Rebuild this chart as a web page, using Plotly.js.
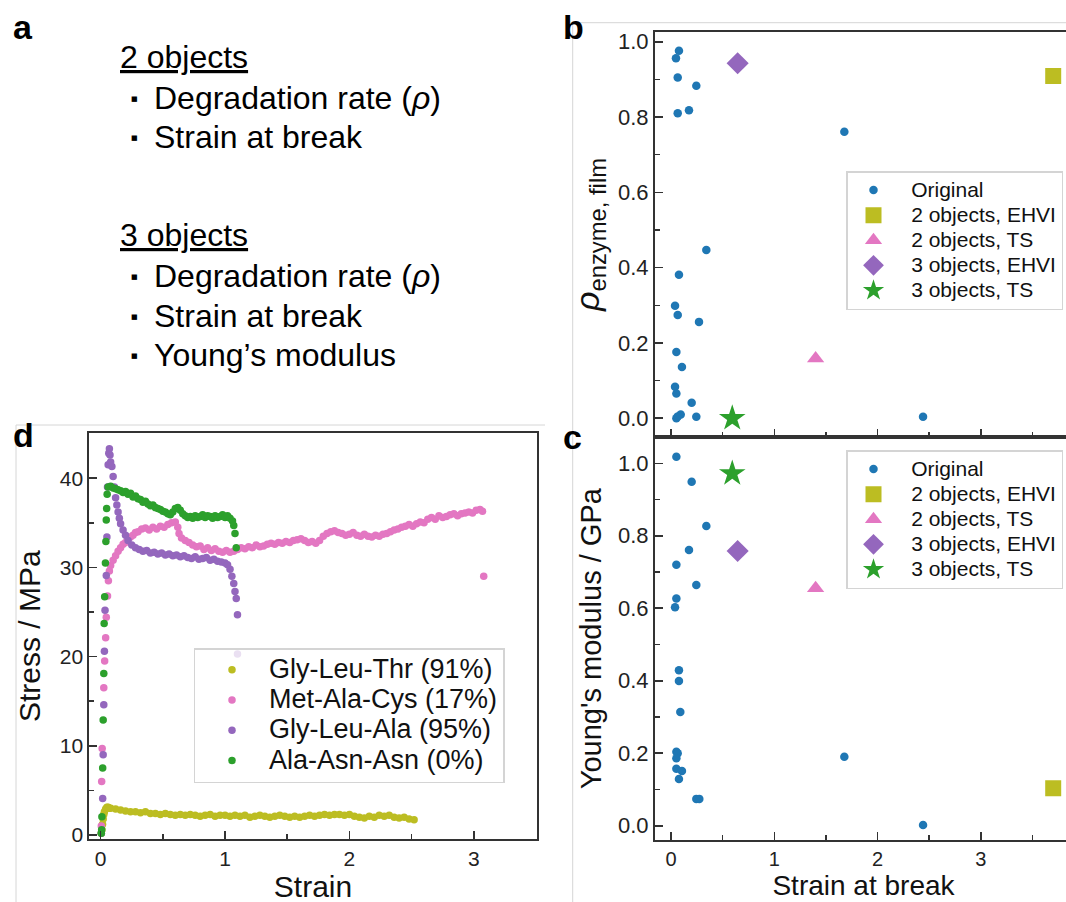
<!DOCTYPE html>
<html>
<head>
<meta charset="utf-8">
<script src="https://cdn.plot.ly/plotly-3.0.1.min.js"></script>
<style>
html,body{margin:0;padding:0;overflow:hidden;background:#fff;}
#plot{width:1080px;height:912px;}
</style>
</head>
<body>
<div id="plot"></div>
<script>
// ---------------- DATA ----------------
// Panel b: original samples, strain at break vs rho(enzyme, film)
const strainB = [0.077,0.048,0.065,0.245,0.065,0.174,1.678,0.342,0.077,0.039,0.065,0.271,0.052,0.106,0.039,0.052,0.200,0.052,0.094,0.245,2.440,0.065];
const rhoB    = [0.976,0.956,0.905,0.883,0.810,0.818,0.761,0.447,0.381,0.299,0.274,0.256,0.176,0.136,0.084,0.066,0.041,0.000,0.010,0.004,0.004,0.005];
// Panel c: original samples, strain at break vs Young's modulus (GPa)
const strainC  = [0.052,0.200,0.342,0.174,0.052,0.245,0.052,0.039,0.077,0.077,0.090,0.052,0.065,0.052,0.052,0.106,0.077,0.245,0.274,1.678,2.440];
const modulusC = [1.018,0.949,0.827,0.761,0.720,0.664,0.627,0.603,0.429,0.399,0.314,0.204,0.200,0.186,0.157,0.151,0.129,0.074,0.074,0.190,0.002];
// Optimised candidates
const candNames    = ['2 objects, EHVI','2 objects, TS','3 objects, EHVI','3 objects, TS'];
const candStrain   = [3.70, 1.40, 0.645, 0.593];
const candRho      = [0.909, 0.159, 0.943, 0.000];
const candModulus  = [0.103, 0.655, 0.758, 0.972];

// Panel d: stress-strain curves
const curveNames = ['Gly-Leu-Thr (91%)','Met-Ala-Cys (17%)','Gly-Leu-Ala (95%)','Ala-Asn-Asn (0%)'];
const strainGLT = [0.005,0.01,0.015,0.02,0.025,0.03,0.04,0.05,0.06,0.07,0.08,0.12,0.16,0.20,0.24,0.28,0.32,0.36,0.40,0.44,0.48,0.52,0.56,0.60,0.64,0.68,0.72,0.76,0.80,0.84,0.88,0.92,0.96,1.00,1.04,1.08,1.12,1.16,1.20,1.24,1.28,1.32,1.36,1.40,1.44,1.48,1.52,1.56,1.60,1.64,1.68,1.72,1.76,1.80,1.84,1.88,1.92,1.96,2.00,2.04,2.08,2.12,2.16,2.20,2.24,2.28,2.32,2.36,2.40,2.44,2.48,2.52];
const stressGLT = [0.2,0.6,1.2,1.8,2.3,2.6,2.9,3.1,3.1,3.0,3.0,2.9,2.8,2.7,2.6,2.6,2.5,2.6,2.4,2.4,2.3,2.4,2.3,2.2,2.3,2.2,2.3,2.2,2.1,2.2,2.3,2.1,2.2,2.2,2.1,2.2,2.1,2.2,2.0,2.1,2.2,2.1,2.0,2.1,2.2,2.1,2.0,2.1,2.0,2.1,2.2,2.1,2.2,2.3,2.2,2.3,2.3,2.2,2.3,2.1,2.0,1.9,2.1,2.0,2.2,2.1,2.2,2.0,1.9,2.0,1.8,1.7];
const strainMAC = [0.005,0.008,0.012,0.025,0.032,0.04,0.045,0.055,0.062,0.07,0.08,0.10,0.12,0.14,0.16,0.18,0.20,0.22,0.24,0.26,0.28,0.30,0.33,0.36,0.39,0.42,0.45,0.48,0.51,0.54,0.57,0.60,0.62,0.63,0.65,0.68,0.71,0.74,0.77,0.80,0.83,0.86,0.89,0.92,0.95,0.98,1.01,1.04,1.07,1.10,1.13,1.16,1.19,1.22,1.25,1.28,1.31,1.34,1.37,1.40,1.43,1.46,1.49,1.52,1.55,1.58,1.61,1.64,1.67,1.70,1.73,1.76,1.79,1.82,1.85,1.88,1.91,1.94,1.97,2.00,2.03,2.06,2.09,2.12,2.15,2.18,2.21,2.24,2.27,2.30,2.33,2.36,2.39,2.42,2.45,2.48,2.51,2.54,2.57,2.60,2.63,2.66,2.69,2.72,2.75,2.78,2.81,2.84,2.87,2.90,2.93,2.96,2.99,3.02,3.05,3.07,3.08];
const stressMAC = [1.0,6.0,9.7,16.5,19.5,22.1,24.4,26.8,28.5,29.6,30.2,30.8,31.3,31.8,32.2,32.6,32.8,33.2,33.4,33.6,33.9,34.0,34.3,34.4,34.2,34.5,34.3,34.6,34.5,34.8,35.0,35.1,34.5,33.8,33.3,33.0,32.8,32.5,32.3,32.4,32.0,32.2,31.9,32.1,31.8,31.7,31.9,31.7,31.8,32.0,32.2,32.1,32.3,32.2,32.5,32.3,32.4,32.6,32.7,32.6,32.8,32.7,32.9,32.8,33.0,33.1,33.2,33.0,32.8,32.9,32.7,33.0,33.5,33.8,34.0,34.1,33.9,33.8,33.6,33.7,33.9,33.6,33.5,33.7,33.5,33.4,33.6,33.5,33.7,33.8,34.0,34.2,34.3,34.5,34.6,34.8,34.6,34.9,35.1,35.0,35.4,35.6,35.4,35.8,35.6,35.7,35.9,36.0,35.8,36.0,36.1,36.2,36.1,36.4,36.5,36.3,29.0];
const strainGLA = [0.005,0.016,0.02,0.025,0.03,0.035,0.045,0.05,0.055,0.06,0.065,0.07,0.075,0.08,0.09,0.10,0.11,0.12,0.13,0.14,0.15,0.16,0.18,0.20,0.22,0.25,0.28,0.31,0.34,0.37,0.40,0.43,0.46,0.49,0.52,0.55,0.58,0.61,0.64,0.67,0.70,0.73,0.76,0.79,0.82,0.85,0.88,0.91,0.94,0.97,1.00,1.02,1.04,1.055,1.07,1.08,1.09,1.10,1.10];
const stressGLA = [0.2,4.1,9.0,14.6,20.6,25.2,29.1,33.4,39.0,41.5,42.8,43.3,42.6,41.8,41.3,40.2,39.0,37.8,37.0,36.2,35.5,34.9,34.2,33.6,33.0,32.5,32.2,32.0,31.8,31.9,31.6,31.7,31.5,31.6,31.4,31.5,31.3,31.4,31.2,31.3,31.1,31.0,31.2,30.9,31.0,31.1,30.8,30.9,30.7,30.6,30.5,30.3,29.8,29.0,28.2,27.3,26.5,24.7,20.3];
const strainAAN = [0.005,0.008,0.01,0.016,0.02,0.025,0.028,0.032,0.038,0.042,0.045,0.048,0.052,0.06,0.08,0.10,0.12,0.14,0.16,0.18,0.20,0.22,0.24,0.26,0.28,0.30,0.32,0.34,0.36,0.38,0.40,0.42,0.44,0.46,0.48,0.50,0.52,0.54,0.56,0.58,0.60,0.62,0.64,0.66,0.68,0.70,0.72,0.74,0.76,0.78,0.80,0.82,0.84,0.86,0.88,0.90,0.92,0.94,0.96,0.98,1.00,1.02,1.04,1.06,1.07,1.08,1.09];
const stressAAN = [0.2,0.6,2.05,7.5,12.9,18.1,23.7,26.7,30.5,32.9,35.3,36.6,38.2,39.0,39.1,38.9,38.8,38.7,38.6,38.4,38.5,38.2,38.3,37.9,38.0,37.7,37.6,37.3,37.4,37.1,36.9,37.0,36.7,36.6,36.5,36.3,36.2,36.0,35.9,36.2,36.6,36.7,36.4,36.0,35.8,35.6,35.7,35.5,35.8,35.6,35.7,35.9,35.6,35.8,35.7,35.5,35.8,35.6,35.7,35.9,35.6,35.8,35.5,35.2,34.7,33.8,32.2];

// ---------------- STYLE ----------------
// paper is slightly larger than the 1066x902 window; positions below are window pixels from the top-left
const W = 1080, H = 912;
const px = v => v / W;
const py = v => 1 - v / H;
const F = "'Liberation Sans', Arial, Helvetica, sans-serif";
const AX = '#333333';
const blue = '#1f77b4';
const candSymbols = ['square','triangle-up','diamond','star'];
const candColors  = ['#bcbd22','#e377c2','#9467bd','#2ca02c'];
const candSizes   = [16, 15, 17, 20];
const curveColors = ['#bcbd22','#e377c2','#9467bd','#2ca02c'];

const sized = (s, size) => '<span style="font-size:' + size + 'px">' + s + '</span>';
const nb = '\u00a0\u00a0';

const traces = [];
// panel d
const dX = [strainGLT, strainMAC, strainGLA, strainAAN];
const dY = [stressGLT, stressMAC, stressGLA, stressAAN];
for (let i = 0; i < 4; i++) {
  traces.push({
    type: 'scatter', mode: 'markers', x: dX[i], y: dY[i],
    xaxis: 'x', yaxis: 'y', legend: 'legend',
    name: sized(curveNames[i], 27),
    marker: {color: curveColors[i], size: 7.5, line: {width: 0}}
  });
}
// panel b
traces.push({type:'scatter', mode:'markers', x: strainB, y: rhoB, xaxis:'x2', yaxis:'y2', legend:'legend2',
  name: sized(nb + 'Original', 21), marker:{color: blue, size: 8.5, line:{width:0}}});
for (let i = 0; i < 4; i++) {
  traces.push({type:'scatter', mode:'markers', x:[candStrain[i]], y:[candRho[i]], xaxis:'x2', yaxis:'y2', legend:'legend2',
    name: sized(nb + candNames[i], 21),
    marker:{color: candColors[i], symbol: candSymbols[i], size: candSizes[i], line:{width:0}}});
}
// panel c
traces.push({type:'scatter', mode:'markers', x: strainC, y: modulusC, xaxis:'x3', yaxis:'y3', legend:'legend3',
  name: sized(nb + 'Original', 21), marker:{color: blue, size: 8.5, line:{width:0}}});
for (let i = 0; i < 4; i++) {
  traces.push({type:'scatter', mode:'markers', x:[candStrain[i]], y:[candModulus[i]], xaxis:'x3', yaxis:'y3', legend:'legend3',
    name: sized(nb + candNames[i], 21),
    marker:{color: candColors[i], symbol: candSymbols[i], size: candSizes[i], line:{width:0}}});
}

function axis(extra) {
  return Object.assign({
    showline: true, mirror: true, linecolor: AX, linewidth: 2,
    ticks: 'inside', ticklen: 8, tickwidth: 1.6, tickcolor: AX,
    showgrid: false, zeroline: false, automargin: false,
    tickfont: {family: F, size: 22, color: '#222'}
  }, extra);
}
const minor = (d) => ({dtick: d, tick0: 0, ticks: 'inside', ticklen: 5, tickwidth: 1.6, tickcolor: AX, showgrid: false});

const layout = {
  width: W, height: H,
  margin: {l: 0, r: 0, t: 0, b: 0},
  paper_bgcolor: '#fff', plot_bgcolor: '#fff',
  font: {family: F, color: '#222'},
  // panel d
  xaxis: axis({domain: [px(89.3), px(536.7)], range: [-0.0915, 3.506], anchor: 'y',
    tick0: 0, dtick: 1, minor: minor(0.5), tickfont: {family: F, size: 21, color: '#222'},
    title: {text: 'Strain', font: {family: F, size: 30, color: '#111'}, standoff: 2}}),
  yaxis: axis({domain: [py(839), py(433.3)], range: [-0.45, 45.03], anchor: 'x',
    tick0: 0, dtick: 10, minor: minor(5), tickfont: {family: F, size: 21, color: '#222'},
    title: {text: 'Stress / MPa', font: {family: F, size: 30, color: '#111'}, standoff: 10}}),
  // panel b
  xaxis2: axis({domain: [px(655), px(1072)], range: [-0.155, 3.882], anchor: 'y2',
    tick0: 0, dtick: 1, minor: minor(0.5), showticklabels: false}),
  yaxis2: axis({domain: [py(437), py(32)], range: [-0.0497, 1.0258], anchor: 'x2',
    tick0: 0, dtick: 0.2, tickformat: '.1f', minor: minor(0.1),
    title: {text: '<i>ρ</i><sub>enzyme, film</sub>', font: {family: F, size: 34, color: '#111'}, standoff: 8}}),
  // panel c
  xaxis3: axis({domain: [px(655), px(1072)], range: [-0.155, 3.882], anchor: 'y3',
    tick0: 0, dtick: 1, minor: minor(0.5), tickfont: {family: F, size: 20, color: '#222'},
    title: {text: 'Strain at break', font: {family: F, size: 28, color: '#111'}, standoff: 0}}),
  yaxis3: axis({domain: [py(840.3), py(437)], range: [-0.0403, 1.0726], anchor: 'x3',
    tick0: 0, dtick: 0.2, tickformat: '.1f', minor: minor(0.1),
    title: {text: "Young's modulus / GPa", font: {family: F, size: 29, color: '#111'}, standoff: 8}}),
  legend: {x: px(193.5), y: py(648), xanchor: 'left', yanchor: 'top',
    bgcolor: 'rgba(255,255,255,0.8)', bordercolor: '#d4d4d4', borderwidth: 1.5,
    font: {family: F, size: 21, color: '#111'}, itemwidth: 64, itemclick: false},
  legend2: {x: px(846), y: py(171), xanchor: 'left', yanchor: 'top',
    bgcolor: 'rgba(255,255,255,0.8)', bordercolor: '#d4d4d4', borderwidth: 1.5,
    font: {family: F, size: 17, color: '#111'}, itemwidth: 42},
  legend3: {x: px(846), y: py(450), xanchor: 'left', yanchor: 'top',
    bgcolor: 'rgba(255,255,255,0.8)', bordercolor: '#d4d4d4', borderwidth: 1.5,
    font: {family: F, size: 17, color: '#111'}, itemwidth: 42},
  shapes: [
    {type:'line', xref:'paper', yref:'paper', x0:px(572.7), x1:px(572.7), y0:py(22.7), y1:0, line:{color:'#d6d6d6', width:1}},
    {type:'line', xref:'paper', yref:'paper', x0:px(572.7), x1:1, y0:py(22.7), y1:py(22.7), line:{color:'#d6d6d6', width:1}},
    {type:'line', xref:'paper', yref:'paper', x0:px(16), x1:px(16), y0:py(425), y1:0, line:{color:'#d6d6d6', width:1}},
    {type:'line', xref:'paper', yref:'paper', x0:px(16), x1:px(545), y0:py(425), y1:py(425), line:{color:'#d6d6d6', width:1}}
  ],
  annotations: []
};

// panel letters
const letters = [['a', 11, 26.5], ['b', 561, 26.5], ['c', 561, 436.5], ['d', 11, 435]];
letters.forEach(l => layout.annotations.push({
  text: '<b>' + l[0] + '</b>', xref: 'paper', yref: 'paper', x: px(l[1]), y: py(l[2]),
  xanchor: 'left', yanchor: 'middle', showarrow: false, font: {family: F, size: 34, color: '#000'}
}));

// panel a text
const aLines = [
  ['<u>2 objects</u>', 118, 57, false],
  ['Degradation rate (<i>ρ</i>)', 152, 98, true],
  ['Strain at break', 152, 137, true],
  ['<u>3 objects</u>', 118, 235, false],
  ['Degradation rate (<i>ρ</i>)', 152, 276, true],
  ['Strain at break', 152, 316, true],
  ['Young’s modulus', 152, 355, true]
];
aLines.forEach(l => {
  layout.annotations.push({
    text: l[0], xref: 'paper', yref: 'paper', x: px(l[1]), y: py(l[2]),
    xanchor: 'left', yanchor: 'middle', showarrow: false, font: {family: F, size: 32, color: '#000'}
  });
  if (l[3]) {
    layout.annotations.push({
      text: '■', xref: 'paper', yref: 'paper', x: px(134), y: py(l[2] + 1),
      xanchor: 'center', yanchor: 'middle', showarrow: false, font: {family: "'DejaVu Sans', sans-serif", size: 7, color: '#000'}
    });
  }
});

Plotly.newPlot('plot', traces, layout, {displayModeBar: false, staticPlot: true});
</script>
</body>
</html>
